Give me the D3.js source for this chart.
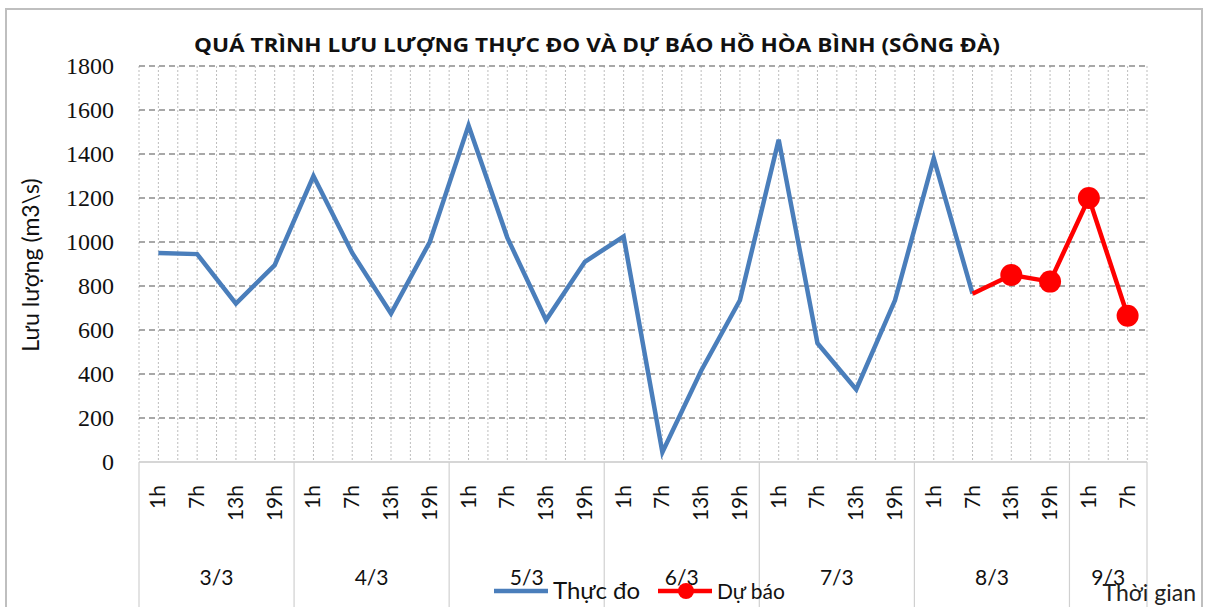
<!DOCTYPE html>
<html>
<head>
<meta charset="utf-8">
<script src="https://cdn.jsdelivr.net/npm/d3@7"></script>
<style>
  body { margin: 0; background: #fff; }
  svg { display: block; }
  .ytick { font-family: 'Liberation Serif', 'DejaVu Serif', 'Times New Roman', serif; }
</style>
</head>
<body>
<div id="chart"></div>
<script>
// data
const hourLabels = ['1h','7h','13h','19h', '1h','7h','13h','19h', '1h','7h','13h','19h',
                    '1h','7h','13h','19h', '1h','7h','13h','19h', '1h','7h','13h','19h',
                    '1h','7h'];
const dayLabels = ['3/3','4/3','5/3','6/3','7/3','8/3','9/3'];
const daySpans = [4, 4, 4, 4, 4, 4, 2];
const thucDo = [950, 945, 720, 895, 1300, 950, 675, 1000, 1530, 1020, 645, 910,
                1025, 45, 415, 735, 1465, 540, 330, 735, 1380, 765,
                null, null, null, null];
const duBao = [null, null, null, null, null, null, null, null, null, null, null, null,
               null, null, null, null, null, null, null, null, null, 765,
               850, 820, 1200, 665];
const duBaoMarkers = [false, false, false, false, false, false, false, false, false, false, false, false,
                      false, false, false, false, false, false, false, false, false, false,
                      true, true, true, true];
const yTicks = [0, 200, 400, 600, 800, 1000, 1200, 1400, 1600, 1800];

const width = 1206;
const height = 607;
const margin = {top: 66, right: 59, bottom: 145, left: 139};

const blue = '#4a7ebb';
const red = '#ff0000';

const svg = d3.select('#chart')
    .append('svg')
        .attr('width', width)
        .attr('height', height);

// outer chart border
svg.append('rect')
    .attr('x', 6).attr('y', 9)
    .attr('width', width - 10).attr('height', height)
    .attr('fill', 'none')
    .attr('stroke', '#bfbfbf')
    .attr('stroke-width', 2);

// SCALES
const idx = d3.range(hourLabels.length);
const x = d3.scaleBand()
    .domain(idx)
    .range([margin.left, width - margin.right])
    .padding(0);
const y = d3.scaleLinear()
    .domain([0, 1800])
    .range([height - margin.bottom, margin.top]);
const bw = x.bandwidth();
const cx = i => x(i) + bw / 2;

// GRID
// minor vertical dotted lines at every half category
const half = d3.range(hourLabels.length * 2 + 1);
svg.append('g')
    .selectAll('line')
    .data(half)
    .join('line')
        .attr('x1', d => margin.left + d * bw / 2)
        .attr('x2', d => margin.left + d * bw / 2)
        .attr('y1', y(1800))
        .attr('y2', y(0))
        .attr('stroke', '#bdbdbd')
        .attr('stroke-width', 1)
        .attr('stroke-dasharray', '2 2');

// major horizontal dashed lines
svg.append('g')
    .selectAll('line')
    .data(yTicks.filter(d => d > 0))
    .join('line')
        .attr('x1', margin.left)
        .attr('x2', width - margin.right)
        .attr('y1', d => y(d))
        .attr('y2', d => y(d))
        .attr('stroke', '#8c8c8c')
        .attr('stroke-width', 1.6)
        .attr('stroke-dasharray', '6 4');

// x axis line
svg.append('line')
    .attr('x1', margin.left).attr('x2', width - margin.right)
    .attr('y1', y(0)).attr('y2', y(0))
    .attr('stroke', '#c8c8c8')
    .attr('stroke-width', 1.5);

// day separators below axis
let bounds = [0];
daySpans.forEach(s => bounds.push(bounds[bounds.length - 1] + s));
svg.append('g')
    .selectAll('line')
    .data(bounds)
    .join('line')
        .attr('x1', d => margin.left + d * bw)
        .attr('x2', d => margin.left + d * bw)
        .attr('y1', y(0))
        .attr('y2', height)
        .attr('stroke', '#d0d0d0')
        .attr('stroke-width', 1.2);

// AXES TEXT
svg.append('g')
    .selectAll('text')
    .data(yTicks)
    .join('text')
        .attr('class', 'ytick')
        .attr('x', 114)
        .attr('y', d => y(d) + 7.5)
        .attr('text-anchor', 'end')
        .attr('font-size', 24)
        .attr('fill', '#111')
        .text(d => d);

svg.append('g')
    .selectAll('text')
    .data(idx)
    .join('text')
        .attr('transform', i => `translate(${cx(i) + 7},485) rotate(-90)`)
        .attr('text-anchor', 'end')
        .attr('font-family', 'Lato, sans-serif')
        .attr('font-size', 21)
        .attr('fill', '#111')
        .text(i => hourLabels[i]);

svg.append('g')
    .selectAll('text')
    .data(dayLabels)
    .join('text')
        .attr('x', (d, i) => margin.left + (bounds[i] + bounds[i + 1]) / 2 * bw)
        .attr('y', 585)
        .attr('text-anchor', 'middle')
        .attr('font-family', 'Lato, sans-serif')
        .attr('font-size', 21)
        .attr('fill', '#111')
        .text(d => d);

// axis titles
svg.append('text')
    .attr('transform', 'translate(39,265) rotate(-90)')
    .attr('text-anchor', 'middle')
    .attr('font-family', 'Lato, sans-serif')
    .attr('font-size', 23)
    .attr('fill', '#111')
    .text('Lưu lượng (m3\\s)');

svg.append('text')
    .attr('x', 1196)
    .attr('y', 601)
    .attr('text-anchor', 'end')
    .attr('font-family', 'Lato, sans-serif')
    .attr('font-size', 23)
    .attr('fill', '#222')
    .text('Thời gian');

// title
svg.append('text')
    .attr('x', 597)
    .attr('y', 52)
    .attr('text-anchor', 'middle')
    .attr('font-family', 'Open Sans, sans-serif')
    .attr('font-weight', 'bold')
    .attr('font-size', 20)
    .attr('textLength', 806)
    .attr('lengthAdjust', 'spacingAndGlyphs')
    .attr('fill', '#111')
    .text('QUÁ TRÌNH LƯU LƯỢNG THỰC ĐO VÀ DỰ BÁO HỒ HÒA BÌNH (SÔNG ĐÀ)');

// LINES
const line = d3.line()
    .defined(d => d != null)
    .x((d, i) => cx(i))
    .y(d => y(d));

svg.append('path')
    .datum(thucDo)
        .attr('fill', 'none')
        .attr('stroke', blue)
        .attr('stroke-width', 4.5)
        .attr('stroke-linejoin', 'miter')
        .attr('d', line);

svg.append('path')
    .datum(duBao)
        .attr('fill', 'none')
        .attr('stroke', red)
        .attr('stroke-width', 4.5)
        .attr('d', line);

svg.append('g')
    .selectAll('circle')
    .data(idx.filter(i => duBaoMarkers[i]))
    .join('circle')
        .attr('cx', i => cx(i))
        .attr('cy', i => y(duBao[i]))
        .attr('r', 11)
        .attr('fill', red);

// LEGEND
const leg = svg.append('g').attr('transform', 'translate(0,591)');
leg.append('line')
    .attr('x1', 494).attr('x2', 548)
    .attr('stroke', blue).attr('stroke-width', 4.5);
leg.append('text')
    .attr('x', 553).attr('y', 8)
    .attr('font-family', 'Lato, sans-serif')
    .attr('font-size', 24)
    .attr('fill', '#111')
    .text('Thực đo');
leg.append('line')
    .attr('x1', 658).attr('x2', 712)
    .attr('stroke', red).attr('stroke-width', 4.5);
leg.append('circle')
    .attr('cx', 686).attr('cy', 0).attr('r', 8)
    .attr('fill', red);
leg.append('text')
    .attr('x', 717).attr('y', 8)
    .attr('font-family', 'Lato, sans-serif')
    .attr('font-size', 21)
    .attr('fill', '#111')
    .text('Dự báo');
</script>
</body>
</html>
